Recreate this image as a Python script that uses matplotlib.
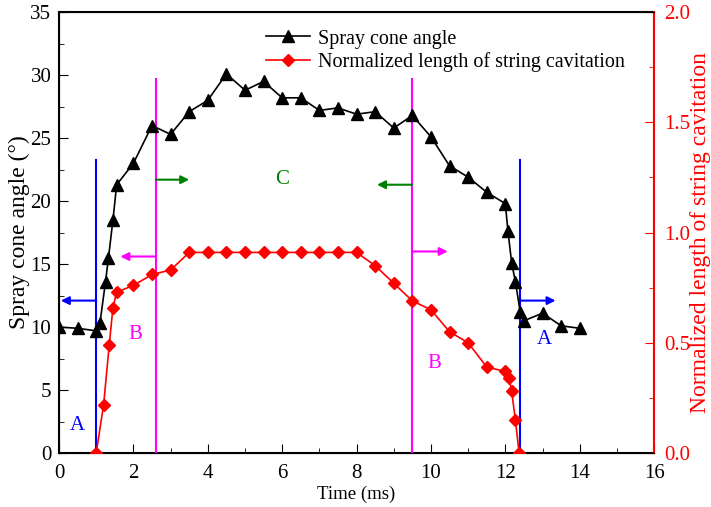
import matplotlib
matplotlib.use("Agg")
import matplotlib.pyplot as plt
from matplotlib.ticker import MultipleLocator

plt.rcParams['font.family'] = ['Liberation Serif', 'DejaVu Serif']

# Spray cone angle (deg) vs time (ms)
t_angle = [0, 0.5, 1.0, 1.1, 1.25, 1.33, 1.45, 1.55, 2.0, 2.5, 3.0, 3.5, 4.0, 4.5,
           5.0, 5.5, 6.0, 6.5, 7.0, 7.5, 8.0, 8.5, 9.0, 9.5, 10.0, 10.5, 11.0,
           11.5, 12.0, 12.07, 12.17, 12.27, 12.4, 12.5, 13.0, 13.5, 14.0]
angle = [10.0, 9.9, 9.7, 10.3, 13.6, 15.5, 18.5, 21.3, 23.0, 26.0, 25.3, 27.1,
         28.0, 30.1, 28.8, 29.5, 28.2, 28.2, 27.2, 27.4, 26.9, 27.1, 25.8, 26.8,
         25.1, 22.8, 21.9, 20.7, 19.8, 17.6, 15.1, 13.6, 11.2, 10.5, 11.1, 10.1, 9.9]

# Normalized length of string cavitation
t_cav = [1.0, 1.2, 1.35, 1.45, 1.55, 2.0, 2.5, 3.0, 3.5, 4.0, 4.5, 5.0, 5.5, 6.0,
         6.5, 7.0, 7.5, 8.0, 8.5, 9.0, 9.5, 10.0, 10.5, 11.0, 11.5, 12.0, 12.1,
         12.17, 12.27, 12.37]
cav = [0.0, 0.22, 0.49, 0.66, 0.73, 0.76, 0.81, 0.83, 0.91, 0.91, 0.91, 0.91,
       0.91, 0.91, 0.91, 0.91, 0.91, 0.91, 0.85, 0.77, 0.69, 0.65, 0.55, 0.50,
       0.39, 0.37, 0.34, 0.28, 0.15, 0.0]

# stage boundaries
t_bounds = [1.0, 2.6, 9.5, 12.4]
bound_tops = [23.3, 29.7, 29.7, 23.3]
bound_colors = ['blue', 'magenta', 'magenta', 'blue']

fig = plt.figure(figsize=(7.11, 5.07), dpi=100)
ax = fig.add_axes([0.083, 0.1065, 0.837, 0.8695])
ax2 = ax.twinx()

l1, = ax.plot(t_angle, angle, color='black', marker='^', markersize=8, lw=1.2,
              label='Spray cone angle', zorder=5)
l2, = ax2.plot(t_cav, cav, color='red', marker='D', markersize=6, lw=1.2,
               label='Normalized length of string cavitation', zorder=5)

# vertical stage lines
for tb, top, c in zip(t_bounds, bound_tops, bound_colors):
    ax.plot([tb, tb], [0, top], color=c, lw=1.5, zorder=3)

# arrows
def arrow(x0, x1, y, c):
    ax.annotate('', xy=(x1, y), xytext=(x0, y),
                arrowprops=dict(arrowstyle='-|>', color=c, lw=1.5,
                                mutation_scale=12, shrinkA=0, shrinkB=0))

arrow(1.0, 0.05, 12.1, 'blue')
arrow(12.4, 13.35, 12.1, 'blue')
arrow(2.6, 3.5, 21.7, 'green')
arrow(9.5, 8.55, 21.3, 'green')
arrow(2.6, 1.65, 15.6, 'magenta')
arrow(9.5, 10.45, 16.0, 'magenta')

ax.text(0.5, 2.2, 'A', color='blue', fontsize=15, ha='center', va='center')
ax.text(2.05, 9.4, 'B', color='magenta', fontsize=15, ha='center', va='center')
ax.text(6.0, 21.7, 'C', color='green', fontsize=15, ha='center', va='center')
ax.text(10.1, 7.1, 'B', color='magenta', fontsize=15, ha='center', va='center')
ax.text(13.05, 9.0, 'A', color='blue', fontsize=15, ha='center', va='center')

ax.set_xlim(0, 16)
ax.set_ylim(0, 35)
ax2.set_ylim(0, 2.0)
ax.xaxis.set_major_locator(MultipleLocator(2))
ax.xaxis.set_minor_locator(MultipleLocator(1))
ax.yaxis.set_major_locator(MultipleLocator(5))
ax.yaxis.set_minor_locator(MultipleLocator(2.5))
ax2.yaxis.set_minor_locator(MultipleLocator(0.25))
ax2.set_yticks([0, 0.5, 1.0, 1.5, 2.0])
ax2.set_yticklabels(['0.0', '0.5', '1.0', '1.5', '2.0'])

ax.tick_params(which='both', direction='in', labelsize=15)
ax.tick_params(which='major', length=6.5)
ax.tick_params(which='minor', length=3.5)
ax.tick_params(axis='x', which='major', pad=8)
ax.tick_params(axis='y', which='major', pad=5.5)
ax.tick_params(axis='y', which='both', right=False)
ax2.tick_params(which='both', direction='in', colors='red', labelsize=15)
ax2.tick_params(which='major', length=6.5, pad=7)
ax2.tick_params(which='minor', length=3.5)
ax2.spines['right'].set_color('red')
ax2.spines['right'].set_linewidth(1.5)
for s in ['left', 'bottom', 'top']:
    ax.spines[s].set_linewidth(1.5)
ax.spines['right'].set_visible(False)

ax.set_xlabel('Time (ms)', fontsize=13.5, labelpad=2)
ax.set_ylabel('Spray cone angle (°)', fontsize=17, labelpad=0)
ax2.set_ylabel('Normalized length of string cavitation', fontsize=17,
               color='red', labelpad=0)

ax.legend([l1, l2], [l1.get_label(), l2.get_label()], loc='upper left',
          bbox_to_anchor=(0.317, 1.002), frameon=False, fontsize=14.5,
          handlelength=2.2, handletextpad=0.4, labelspacing=0.2)

fig.savefig('out.png', dpi=100)
